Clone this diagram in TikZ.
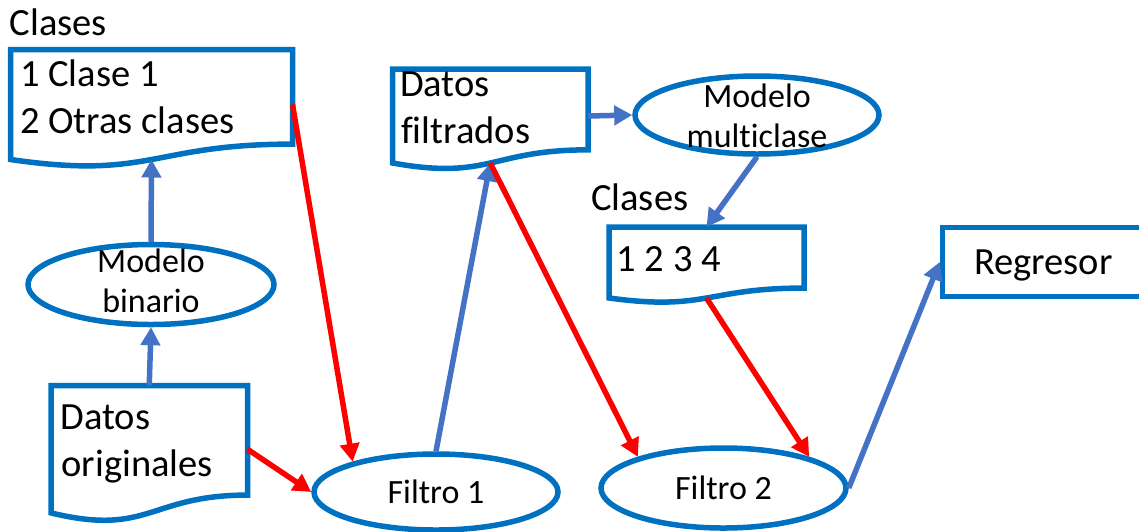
\documentclass[tikz,border=0pt]{standalone}
\usepackage{fontspec}
\setmainfont{Carlito}[Ligatures=NoCommon]
\usetikzlibrary{shapes.geometric,arrows.meta,calc}

\definecolor{azulcaja}{HTML}{0070C0}
\definecolor{azulflecha}{HTML}{4472C4}
\definecolor{rojo}{HTML}{FF0000}

\tikzset{
  docbox/.style={rectangle, draw=none, inner sep=0pt, outer sep=0pt},
  docborde/.style={draw=azulcaja, line width=5.5pt, line join=miter},
  caja/.style={rectangle, draw=azulcaja, line width=5.5pt, inner sep=0pt,
    font=\fontsize{38.5}{46}\selectfont},
  elipse/.style={ellipse, draw=azulcaja, line width=5.5pt, inner sep=0pt,
    font=\fontsize{34}{40.5}\selectfont},
  textog/.style={inner sep=0pt, anchor=base west, font=\fontsize{38.5}{46}\selectfont},
  textchico/.style={inner sep=0pt, align=center, font=\fontsize{34}{40.5}\selectfont},
  flechaA/.style={draw=azulflecha, line width=5.5pt, -{Triangle[length=18pt,width=19pt]}},
  flechaR/.style={draw=rojo, line width=5.5pt, -{Triangle[length=18pt,width=19pt]}}
}

% contour of a "document" block around an empty node
\newcommand{\docpath}[1]{%
  \draw[docborde] (#1.north west) -- (#1.north east)
    -- ($(#1.north east)!0.86!(#1.south east)$)
    .. controls ($(#1.north)!0.86!(#1.south)$) and ($(#1.north)!1.187!(#1.south)$)
    .. (#1.south west) -- cycle;}

\begin{document}
\begin{tikzpicture}[x=1pt, y=-1pt]

  % Bounding box of the scheme
  \useasboundingbox (0,0) rectangle (1139,531);

  %%%%%%%%%%%%%%%%%%%%%%%%%%%%%%%%% Bloques documento %%%%%%%%%%%%%%%%%%%%%%%%%%%%%%%%%%%%
  \draw (151.5,104.5) node[docbox, minimum width=282pt, minimum height=110pt] (clases1) {} ;
  \draw (490.25,116) node[docbox, minimum width=195.5pt, minimum height=94pt] (dfilt) {} ;
  \draw (706.5,262.5) node[docbox, minimum width=195pt, minimum height=71pt] (clases2) {} ;
  \draw (149.25,449.2) node[docbox, minimum width=196.5pt, minimum height=127.4pt] (dorig) {} ;

  \foreach \d in {clases1,dfilt,clases2,dorig} {
    \docpath{\d}
  }

  % Caja del regresor
  \draw (1043.25,262) node[caja, minimum width=201.5pt, minimum height=69pt, text depth=0pt] (regresor) {Regresor} ;

  %%%%%%%%%%%%%%%%%%%%%%%%%%%%%%%%% Modelos y filtros %%%%%%%%%%%%%%%%%%%%%%%%%%%%%%%%%%%%%
  \draw (151,284.5) node[elipse, minimum width=246pt, minimum height=80pt] (mbin) {} ;
  \draw (757,115) node[elipse, minimum width=244pt, minimum height=78pt] (mmulti) {} ;
  \draw (436,492) node[elipse, minimum width=244pt, minimum height=76pt] (filtro1) {Filtro 1} ;
  \draw (723.5,488) node[elipse, minimum width=245pt, minimum height=80pt] (filtro2) {Filtro 2} ;

  \draw (151,281) node[textchico] (tmbin) {Modelo\\binario} ;
  \draw (757,116) node[textchico] (tmmulti) {Modelo\\multiclase} ;

  %%%%%%%%%%%%%%%%%%%%%%%%%%%%%%%%% Textos %%%%%%%%%%%%%%%%%%%%%%%%%%%%%%%%%%%%%%%%%%%%%%%%
  \draw (9.5,35.5) node[textog] (lab1) {Clases} ;
  \draw (20,86.7) node[textog] (c1a) {1 Clase 1} ;
  \draw (20,133.3) node[textog] (c1b) {2 Otras clases} ;
  \draw (400,96.7) node[textog] (df1) {Datos} ;
  \draw (401,143.3) node[textog] (df2) {filtrados} ;
  \draw (591,210) node[textog] (lab2) {Clases} ;
  \draw (616.5,271.7) node[textog] (c2a) {1 2 3 4} ;
  \draw (60.5,429.3) node[textog] (do1) {Datos} ;
  \draw (61.5,476) node[textog] (do2) {originales} ;

  %%%%%%%%%%%%%%%%%%%%%%%%%%%%%%%%% Flechas %%%%%%%%%%%%%%%%%%%%%%%%%%%%%%%%%%%%%%%%%%%%%%%
  \draw[flechaA] (dorig.north) -- (mbin.south) ;
  \draw[flechaA] (mbin.north) -- (clases1.south) ;
  \draw[flechaR] (clases1.east) -- (filtro1.160) ;
  \draw[flechaR] (dorig.east) -- (filtro1.west) ;
  \draw[flechaA] (filtro1.north) -- (dfilt.south) ;
  \draw[flechaR] (dfilt.south) -- (filtro2.160) ;
  \draw[flechaA] (dfilt.east) -- (mmulti.west) ;
  \draw[flechaA] (mmulti.south) -- (clases2.north) ;
  \draw[flechaR] (clases2.south) -- (filtro2.20) ;
  \draw[flechaA] (filtro2.east) -- (regresor.west) ;

\end{tikzpicture}
\end{document}
